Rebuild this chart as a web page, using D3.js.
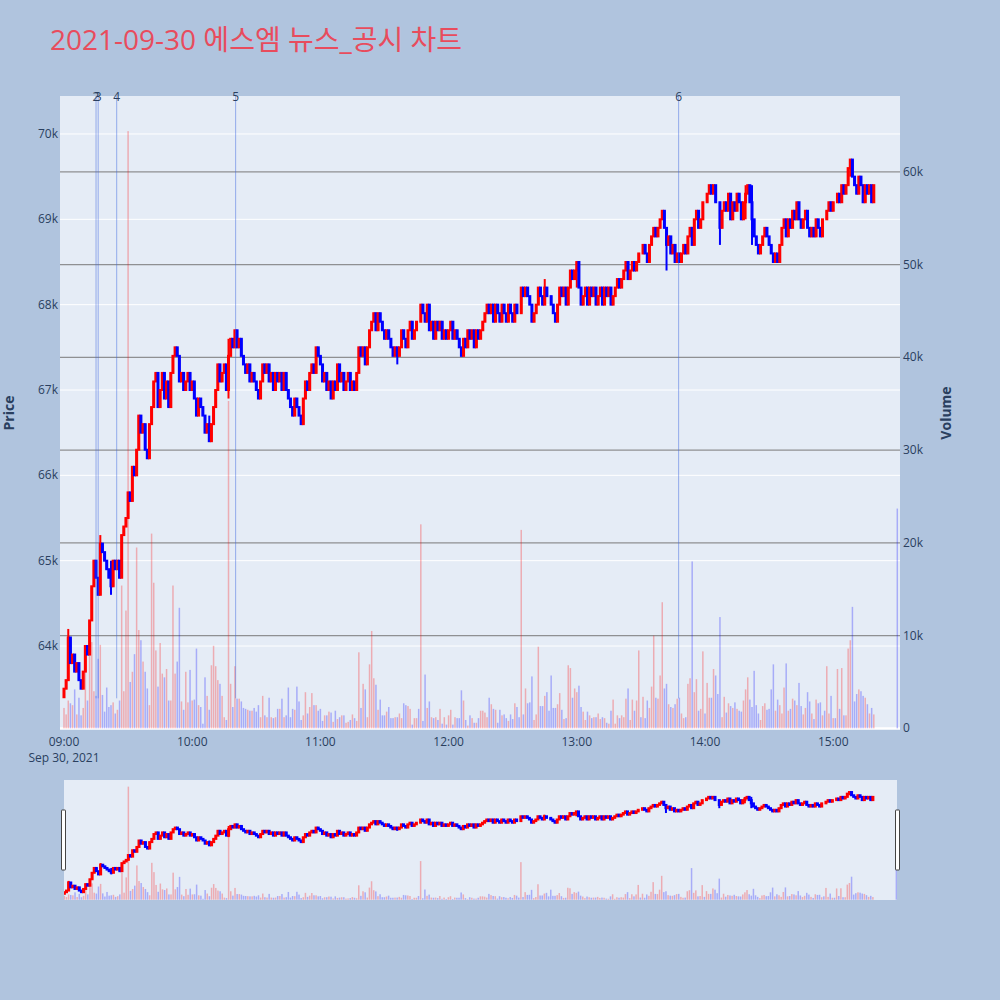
<!DOCTYPE html>
<html>
<head>
<meta charset="utf-8">
<script src="https://cdn.jsdelivr.net/npm/d3@7"></script>
<style>
  body { margin: 0; background: #b0c4de; }
  svg { display: block; font-family: "Open Sans", "Noto Sans CJK KR", sans-serif; }
</style>
</head>
<body>
<svg id="chart" width="1000" height="1000"></svg>
<script>
const chartTitle = "2021-09-30 에스엠 뉴스_공시 차트";
const tradeDate = "2021-09-30";
const sessionOpen = "09:00";
const sessionEnd = "15:20";
const closingAuction = "15:30";

// prices in hundreds of won, one candle per minute 09:00 .. 15:19
const openFirst = 634;
const close100 = [
  635,636,641,638,639,637,638,636,635,637, 640,639,643,647,650,648,646,652,651,650,
  649,648,647,650,649,650,648,653,654,655, 658,657,661,660,663,667,665,666,663,662,
  666,668,671,672,668,670,672,669,671,668, 672,674,675,674,671,672,670,671,672,670,
  671,669,667,669,668,667,665,666,664,666, 668,670,673,671,672,673,670,674,676,675,
  677,675,676,674,673,672,673,671,672,671, 670,669,671,673,672,673,671,672,670,672,
  671,672,670,672,670,669,668,667,669,668, 667,666,669,671,670,672,673,672,675,674,
  673,671,672,670,671,669,671,670,673,671, 672,670,671,672,670,671,670,672,675,674,
  675,673,675,677,678,679,677,679,678,677, 676,677,676,675,674,675,674,675,677,676,
  675,677,678,676,677,678,678,680,679,678, 680,677,678,676,678,677,678,676,677,676,
  677,678,676,677,676,675,674,676,675,677, 676,677,675,677,676,677,678,679,680,679,
  680,678,680,679,678,680,679,678,680,679, 678,680,679,679,682,681,682,681,680,678,
  679,680,682,681,680,682,681,681,680,679, 678,680,682,681,682,680,682,684,683,684,
  685,682,680,681,682,680,682,681,682,680, 681,682,680,682,681,682,680,681,682,683,
  682,683,684,685,683,684,685,684,685,686, 686,687,686,685,687,688,689,688,689,690,
  691,689,687,688,686,687,685,686,685,686, 687,686,688,689,687,690,691,689,690,692,
  692,693,694,693,694,692,692,689,691,692, 691,693,690,692,691,693,692,690,692,693,
  694,692,690,688,687,686,687,688,689,688, 687,686,685,686,685,687,689,690,688,690,
  689,691,690,692,690,689,690,691,689,688, 689,688,690,689,688,690,690,691,692,691,
  692,692,693,692,694,693,694,696,697,695, 694,693,695,694,692,694,693,694,692,694
];
// [minute index, low, high] where the wick reaches past the body
const wicks = [
  [2, 636, 642], [17, 646, 653], [22, 646, 650], [68, 664, 667], [77, 669, 676],
  [156, 673, 675], [225, 681, 683], [240, 682, 685], [282, 684, 689], [307, 687, 692],
  [319, 690, 694], [322, 687, 694], [368, 695, 697]
];
// volume in thousands of shares
const volumeK = [
  2.2,1.5,3.0,2.7,2.5,4.2,1.5,3.3,1.4,2.2, 8.2,3.0,11.0,9.3,4.0,3.5,7.5,9.0,3.6,1.8,
  4.4,2.3,2.5,2.8,1.6,2.0,3.0,15.4,4.0,12.7, 64.4,5.0,6.1,8.0,19.5,10.6,9.5,7.2,6.1,4.3,
  2.5,21.0,15.7,8.4,4.5,9.2,5.9,5.5,6.4,3.0, 3.0,15.4,5.9,7.2,13.0,2.9,2.0,6.1,2.8,6.3,
  3.0,3.1,8.6,2.5,2.3,0.5,5.5,3.5,2.0,6.8, 8.9,6.7,5.2,4.8,3.5,1.2,0.9,35.3,4.8,2.3,
  6.7,3.2,3.2,2.9,2.2,2.1,2.0,1.9,1.9,2.2, 1.8,2.5,1.2,3.5,1.4,1.2,3.3,1.2,1.1,1.2,
  2.1,2.1,3.2,1.2,1.4,4.4,1.2,2.1,2.0,4.5, 2.9,0.9,1.4,3.9,1.6,2.3,3.8,2.5,2.5,1.9,
  2.1,0.8,1.4,1.4,1.8,1.7,0.7,1.9,1.0,1.2, 1.4,1.4,0.6,0.7,0.9,1.5,1.1,0.8,8.2,2.2,
  4.8,4.2,1.2,6.9,10.5,5.4,4.7,2.0,3.1,1.4, 1.4,1.8,2.3,1.1,1.1,1.2,1.2,1.6,1.1,2.7,
  2.5,2.4,2.1,0.4,1.1,1.1,2.1,22.0,0.8,5.8, 2.2,2.9,1.2,1.1,1.2,0.9,2.1,0.5,1.2,0.4,
  1.4,2.0,0.4,1.2,1.1,1.1,4.1,3.0,0.9,0.3, 1.4,1.1,0.6,0.6,1.1,1.9,1.9,1.7,1.2,3.3,
  2.6,2.1,2.0,0.6,2.0,1.4,1.5,1.1,0.8,1.5, 1.0,2.7,2.3,1.2,21.4,1.5,4.3,2.7,2.8,5.6,
  0.9,1.5,8.8,2.4,2.4,3.5,3.9,1.9,5.7,2.2, 2.2,2.6,3.8,2.0,1.0,1.1,6.8,6.5,3.3,4.3,
  3.9,4.6,2.3,1.8,0.9,1.8,1.4,1.1,1.2,1.2, 1.6,1.0,1.2,1.1,0.6,0.5,1.9,3.1,0.5,1.4,
  1.1,1.4,1.2,3.2,4.3,0.9,3.1,1.9,3.0,8.4, 1.2,3.4,1.1,3.0,2.2,4.5,10.0,3.3,3.2,5.7,
  13.6,4.3,4.8,2.6,2.3,2.2,2.6,3.2,3.3,1.6, 1.1,1.2,4.8,5.4,18.0,3.9,5.3,1.9,2.1,8.3,
  1.6,4.9,3.3,3.3,6.4,5.7,3.7,12.0,1.2,3.4, 1.7,2.7,2.4,2.2,2.8,2.1,1.9,1.8,3.0,4.2,
  5.5,3.1,2.3,6.2,2.5,1.6,0.9,2.4,2.7,2.0, 2.1,4.2,6.9,1.9,3.1,2.5,1.6,4.4,7.0,1.9,
  2.1,3.2,3.0,2.5,4.9,2.4,1.5,2.2,3.9,2.9, 1.6,1.0,3.1,2.7,2.8,1.4,1.9,6.7,1.6,3.5,
  1.1,1.1,6.4,2.1,6.5,1.4,1.4,8.6,9.5,13.1, 2.9,3.7,4.2,4.0,3.5,3.3,2.6,1.6,2.2,1.5
];
const auctionPrice100 = 692;
const auctionVolumeK = 23.7;

// news / disclosure markers
const eventLabels = ["2", "3", "4", "5", "6"];
const eventTimes = ["09:15:00", "09:16:00", "09:24:40", "10:20:20", "13:47:40"];

const priceTicks = [64000, 65000, 66000, 67000, 68000, 69000, 70000];
const volumeTicks = [0, 10000, 20000, 30000, 40000, 50000, 60000];
const hourTicks = ["09:00", "10:00", "11:00", "12:00", "13:00", "14:00", "15:00"];

const parse = d3.timeParse("%Y-%m-%d %H:%M:%S");
const at = hms => parse(`${tradeDate} ${hms.length === 5 ? hms + ":00" : hms}`);

const minutes = d3.timeMinute.range(at(sessionOpen), at(sessionEnd));
const candles = minutes.map((time, i) => ({
    time,
    open: (i ? close100[i - 1] : openFirst) * 100,
    close: close100[i] * 100,
    volume: volumeK[i] * 1000
}));
candles.push({ time: at(closingAuction), open: auctionPrice100 * 100, close: auctionPrice100 * 100, volume: auctionVolumeK * 1000 });
candles.forEach(d => {
    d.up = d.close > d.open;
    d.high = Math.max(d.open, d.close);
    d.low = Math.min(d.open, d.close);
});
wicks.forEach(([i, lo, hi]) => {
    candles[i].low = Math.min(candles[i].low, lo * 100);
    candles[i].high = Math.max(candles[i].high, hi * 100);
});

const svg = d3.select("#chart");
const margens = { left: 60, right: 100, top: 96, bottom: 270 };
const width = 1000, height = 1000;
const plotBottom = height - margens.bottom;   // 730
const plotRight = width - margens.right;      // 900
const textColor = "#2a3f5f";

const x = d3.scaleTime()
    .domain([at("08:58:08"), at("15:31:16")])
    .range([margens.left, plotRight]);
const y = d3.scaleLinear().domain([63016, 70445]).range([plotBottom, margens.top]);
const yVol = d3.scaleLinear().domain([-180, 68190]).range([plotBottom, margens.top]);

// title
svg.append("text")
    .attr("x", 50).attr("y", 50)
    .attr("fill", "#e84c5d")
    .attr("font-size", "28px")
    .text(chartTitle);

// plot background
svg.append("rect")
    .attr("x", margens.left).attr("y", margens.top)
    .attr("width", plotRight - margens.left).attr("height", plotBottom - margens.top)
    .attr("fill", "#e5ecf6");

svg.append("clipPath").attr("id", "plotClip")
    .append("rect")
    .attr("x", margens.left).attr("y", margens.top)
    .attr("width", plotRight - margens.left).attr("height", plotBottom - margens.top);

// price grid (white)
svg.append("g").selectAll("line")
    .data(priceTicks)
    .join("line")
    .attr("x1", margens.left).attr("x2", plotRight)
    .attr("y1", d => y(d)).attr("y2", d => y(d))
    .attr("stroke", "#ffffff").attr("stroke-width", 1);

// volume grid (grey)
svg.append("g").selectAll("line")
    .data(volumeTicks.slice(1))
    .join("line")
    .attr("x1", margens.left).attr("x2", plotRight)
    .attr("y1", d => yVol(d)).attr("y2", d => yVol(d))
    .attr("stroke", "#808080").attr("stroke-width", 1.3).attr("stroke-opacity", 0.85);

svg.append("line")
    .attr("x1", margens.left).attr("x2", plotRight)
    .attr("y1", yVol(0)).attr("y2", yVol(0))
    .attr("stroke", "#ffffff").attr("stroke-width", 2);

function drawCandles(g, xs, yp, yv, lineW) {
    const barW = 1.5;
    g.selectAll(".vol")
        .data(candles)
        .join("rect")
        .attr("class", "vol")
        .attr("x", d => xs(d.time) - barW / 2)
        .attr("width", barW)
        .attr("y", d => yv(d.volume))
        .attr("height", d => yv(0) - yv(d.volume))
        .attr("fill", d => d.up ? "#ff0000" : "#0000ff")
        .attr("fill-opacity", 0.27);

    g.selectAll(".wick")
        .data(candles)
        .join("line")
        .attr("class", "wick")
        .attr("x1", d => xs(d.time)).attr("x2", d => xs(d.time))
        .attr("y1", d => yp(d.high)).attr("y2", d => yp(d.low))
        .attr("stroke", d => d.up ? "#ff0000" : "#0000ff")
        .attr("stroke-width", lineW);

    g.selectAll(".body")
        .data(candles)
        .join("rect")
        .attr("class", "body")
        .attr("x", d => xs(d.time) - 0.5)
        .attr("width", 1)
        .attr("y", d => yp(Math.max(d.open, d.close)))
        .attr("height", d => Math.abs(yp(d.open) - yp(d.close)))
        .attr("fill", d => d.up ? "#ff0000" : "#0000ff")
        .attr("stroke", d => d.up ? "#ff0000" : "#0000ff")
        .attr("stroke-width", lineW);
}

const mainGroup = svg.append("g").attr("clip-path", "url(#plotClip)");
drawCandles(mainGroup, x, y, yVol, 2);

// event markers
const eventTop = margens.top;
const eventBottom = plotBottom - 0.05 * (plotBottom - margens.top);
const events = eventLabels.map((label, i) => ({ label, time: at(eventTimes[i]) }));
svg.append("g").selectAll("line")
    .data(events)
    .join("line")
    .attr("x1", d => x(d.time)).attr("x2", d => x(d.time))
    .attr("y1", eventTop).attr("y2", eventBottom)
    .attr("stroke", "#4169e1").attr("stroke-opacity", 0.5).attr("stroke-width", 1);
svg.append("g").selectAll("text")
    .data(events)
    .join("text")
    .attr("x", d => x(d.time))
    .attr("y", eventTop + 5)
    .attr("text-anchor", "middle")
    .attr("fill", textColor)
    .attr("font-size", "12px")
    .text(d => d.label);

// left price axis
svg.append("g").selectAll("text")
    .data(priceTicks)
    .join("text")
    .attr("x", margens.left - 2)
    .attr("y", d => y(d) + 4)
    .attr("text-anchor", "end")
    .attr("fill", textColor)
    .attr("font-size", "12px")
    .text(d => d3.format("~s")(d));

// right volume axis
svg.append("g").selectAll("text")
    .data(volumeTicks)
    .join("text")
    .attr("x", plotRight + 3)
    .attr("y", d => yVol(d) + 4)
    .attr("text-anchor", "start")
    .attr("fill", textColor)
    .attr("font-size", "12px")
    .text(d => d3.format("~s")(d));

// x axis labels
const xLabels = svg.append("g").selectAll("g")
    .data(hourTicks)
    .join("g")
    .attr("transform", d => `translate(${x(at(d))}, ${plotBottom + 16})`);
xLabels.append("text")
    .attr("text-anchor", "middle")
    .attr("fill", textColor)
    .attr("font-size", "12px")
    .text(d => d);
xLabels.filter((d, i) => i === 0).append("text")
    .attr("y", 16)
    .attr("text-anchor", "middle")
    .attr("fill", textColor)
    .attr("font-size", "12px")
    .text(d3.timeFormat("%b %d, %Y")(at(sessionOpen)));

// axis titles
svg.append("text")
    .attr("transform", `translate(14, ${(margens.top + plotBottom) / 2}) rotate(-90)`)
    .attr("text-anchor", "middle")
    .attr("fill", textColor)
    .attr("font-size", "14px")
    .attr("font-weight", "bold")
    .text("Price");
svg.append("text")
    .attr("transform", `translate(951, ${(margens.top + plotBottom) / 2}) rotate(-90)`)
    .attr("text-anchor", "middle")
    .attr("fill", textColor)
    .attr("font-size", "14px")
    .attr("font-weight", "bold")
    .text("Volume");

// range slider
const slider = { left: 64, right: 897, top: 780, bottom: 900 };
const xs = d3.scaleTime()
    .domain([at("08:59:50"), at("15:30:18")])
    .range([slider.left, slider.right]);
const ys = d3.scaleLinear().domain(y.domain()).range([slider.bottom, slider.top]);
const yvs = d3.scaleLinear().domain(yVol.domain()).range([slider.bottom, slider.top]);

svg.append("rect")
    .attr("x", slider.left).attr("y", slider.top)
    .attr("width", slider.right - slider.left).attr("height", slider.bottom - slider.top)
    .attr("fill", "#e5ecf6");
svg.append("clipPath").attr("id", "sliderClip")
    .append("rect")
    .attr("x", slider.left).attr("y", slider.top)
    .attr("width", slider.right - slider.left).attr("height", slider.bottom - slider.top);
drawCandles(svg.append("g").attr("clip-path", "url(#sliderClip)"), xs, ys, yvs, 2);

svg.append("g").selectAll("rect")
    .data([slider.left - 2.5, slider.right - 1.5])
    .join("rect")
    .attr("x", d => d)
    .attr("y", 810)
    .attr("width", 4)
    .attr("height", 60)
    .attr("rx", 0.5)
    .attr("fill", "#ffffff")
    .attr("stroke", "#444444")
    .attr("stroke-width", 1);
</script>
</body>
</html>
